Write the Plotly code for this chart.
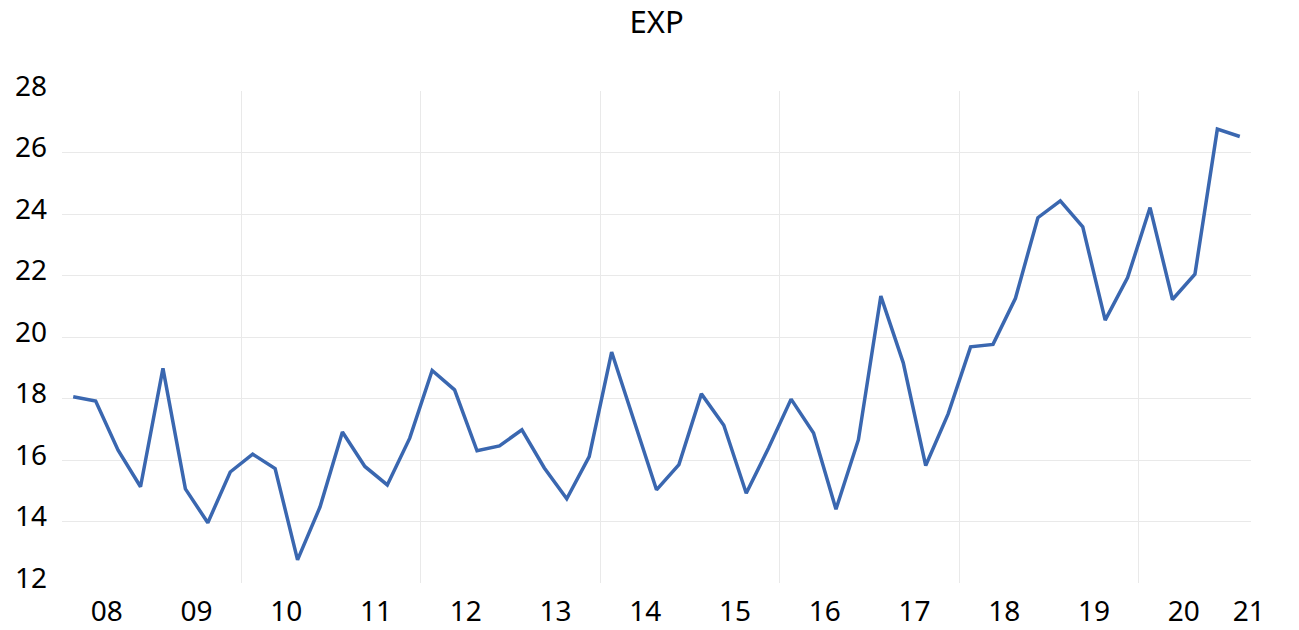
import plotly.graph_objects as go

# Quarterly EXP series, 2008 Q1 – 2021 Q1
years = ["08", "09", "10", "11", "12", "13", "14", "15", "16", "17", "18", "19", "20", "21"]
quarters_per_year = 4
exp_values = [
    18.06, 17.92, 16.32, 15.13,   # 2008
    18.98, 15.06, 13.96, 15.61,   # 2009
    16.19, 15.72, 12.75, 14.47,   # 2010
    16.91, 15.79, 15.19, 16.71,   # 2011
    18.91, 18.28, 16.30, 16.46,   # 2012
    16.98, 15.74, 14.74, 16.11,   # 2013
    19.51, 17.30, 15.03, 15.85,   # 2014
    18.15, 17.13, 14.92, 16.40,   # 2015
    17.98, 16.88, 14.40, 16.66,   # 2016
    21.33, 19.16, 15.82, 17.50,   # 2017
    19.68, 19.76, 21.26, 23.88,   # 2018
    24.43, 23.58, 20.55, 21.93,   # 2019
    24.21, 21.22, 22.04, 26.76,   # 2020
    26.52,                        # 2021
]
y_ticks = [12, 14, 16, 18, 20, 22, 24, 26, 28]

n = len(exp_values)
x_idx = list(range(n))
periods = [f"20{years[i // quarters_per_year]} Q{i % quarters_per_year + 1}" for i in x_idx]

x_lo, x_hi = -0.5, n - 0.5
# one label per year, centred on its block of quarters, kept inside the axis
year_pos = [min(i * quarters_per_year + 1.5, x_hi - 0.1) for i in range(len(years))]
# vertical grid at every second year boundary
grid_pos = [i - 0.5 for i in range(2 * quarters_per_year, n, 2 * quarters_per_year)]

font_family = "Noto Sans, Open Sans, DejaVu Sans, sans-serif"
grid_color = "#E9E9E9"

fig = go.Figure(
    go.Scatter(
        x=x_idx,
        y=exp_values,
        customdata=periods,
        mode="lines",
        line=dict(color="#3A67B0", width=3.5),
        hovertemplate="%{customdata}: %{y:.2f}<extra></extra>",
    )
)

fig.update_layout(
    width=1299,
    height=630,
    margin=dict(l=62, r=48, t=91, b=47),
    paper_bgcolor="white",
    plot_bgcolor="white",
    showlegend=False,
    font=dict(family=font_family, size=28, color="#000000"),
    title=dict(
        text="EXP",
        x=0.5055,
        xanchor="center",
        y=1 - 22 / 630,
        yanchor="middle",
        yref="container",
        font=dict(family=font_family, size=31, color="#000000"),
    ),
)

fig.update_xaxes(
    range=[x_lo, x_hi],
    automargin=False,
    tickmode="array",
    tickvals=year_pos,
    ticktext=years,
    showgrid=False,
    zeroline=False,
    showline=False,
    ticks="",
    ticklabelstandoff=9,
    tickfont=dict(size=28),
    minor=dict(
        tickmode="array",
        tickvals=grid_pos,
        showgrid=True,
        gridcolor=grid_color,
        gridwidth=1,
        ticks="",
    ),
)

fig.update_yaxes(
    range=[12, 28],
    automargin=False,
    tickmode="array",
    tickvals=y_ticks,
    ticktext=[str(v) for v in y_ticks],
    showgrid=False,
    zeroline=False,
    showline=False,
    ticks="",
    ticklabelstandoff=14,
    ticklabelshift=-5,
    tickfont=dict(size=28),
)

# horizontal grid only between the axis limits
fig.update_yaxes(
    minor=dict(
        tickmode="array",
        tickvals=y_ticks[1:-1],
        showgrid=True,
        gridcolor=grid_color,
        gridwidth=1,
        ticks="",
    )
)

fig.write_html("out.html")
